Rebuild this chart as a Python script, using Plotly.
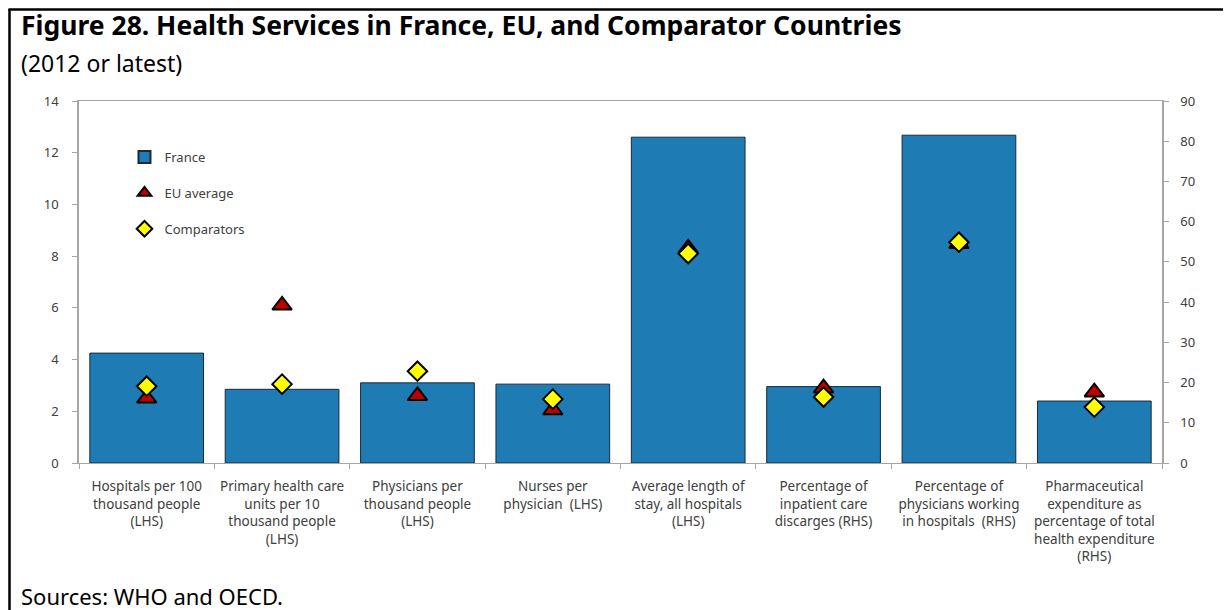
import plotly.graph_objects as go

# Categories (x tick labels)
categories = [
    'Hospitals per 100<br>thousand people<br>(LHS)',
    'Primary health care<br>units per 10<br>thousand people<br>(LHS)',
    'Physicians per<br>thousand people<br>(LHS)',
    'Nurses per<br>physician  (LHS)',
    'Average length of<br>stay, all hospitals<br>(LHS)',
    'Percentage of<br>inpatient care<br>discarges (RHS)',
    'Percentage of<br>physicians working<br>in hospitals  (RHS)',
    'Pharmaceutical<br>expenditure as<br>percentage of total<br>health expenditure<br>(RHS)',
]
lhs_categories = categories[:5]
rhs_categories = categories[5:]

# Values
france_lhs = [4.25, 2.85, 3.1, 3.05, 12.6]
france_rhs = [19.0, 81.5, 15.4]
eu_lhs = [2.5, 6.1, 2.6, 2.05, 8.3]
eu_rhs = [18.6, 54.5, 17.6]
comparators_lhs = [2.97, 3.05, 3.55, 2.47, 8.1]
comparators_rhs = [16.4, 54.9, 13.9]

lhs_ticks = list(range(0, 15, 2))
rhs_ticks = list(range(0, 91, 10))

# Styles
bar_color = '#1F7BB4'
eu_color = '#C00000'
comp_color = '#FFFF00'
axis_color = '#A6A6A6'
text_color = '#404040'
font_family = 'Noto Sans'

# The page puts the figure 8px in from the top-left corner
offset = 8
W, H = 1231, 610
plot_left, plot_right, plot_top, plot_bottom = 79 - offset, 1162 - offset, 101 - offset, 463 - offset
plot_w = plot_right - plot_left
plot_h = plot_bottom - plot_top


def px_x(px):
    # screen pixel -> paper x
    return (px - offset - plot_left) / plot_w


def px_y(py):
    # screen pixel -> paper y
    return (plot_bottom - (py - offset)) / plot_h


fig = go.Figure()

# France bars
bar_line = dict(color='#1A2A38', width=1)
fig.add_trace(go.Bar(x=lhs_categories, y=france_lhs, name='France', legendgroup='fr',
                     marker=dict(color=bar_color, line=bar_line)))
fig.add_trace(go.Bar(x=rhs_categories, y=france_rhs, name='France', legendgroup='fr', showlegend=False,
                     yaxis='y2', marker=dict(color=bar_color, line=bar_line)))

# EU average
eu_marker = dict(symbol='triangle-up', size=17, color=eu_color, line=dict(color='black', width=2))
fig.add_trace(go.Scatter(x=lhs_categories, y=eu_lhs, mode='markers', name='EU average', legendgroup='eu',
                         marker=eu_marker))
fig.add_trace(go.Scatter(x=rhs_categories, y=eu_rhs, mode='markers', name='EU average', legendgroup='eu',
                         showlegend=False, yaxis='y2', marker=eu_marker))

# Comparators
comp_marker = dict(symbol='diamond', size=15, color=comp_color, line=dict(color='black', width=2))
fig.add_trace(go.Scatter(x=lhs_categories, y=comparators_lhs, mode='markers', name='Comparators',
                         legendgroup='comp', marker=comp_marker))
fig.add_trace(go.Scatter(x=rhs_categories, y=comparators_rhs, mode='markers', name='Comparators',
                         legendgroup='comp', showlegend=False, yaxis='y2', marker=comp_marker))

fig.update_layout(
    width=W, height=H,
    margin=dict(l=plot_left, r=W - plot_right, t=plot_top, b=H - plot_bottom, autoexpand=False),
    paper_bgcolor='white', plot_bgcolor='white',
    font=dict(family=font_family, color=text_color, size=13),
    barmode='overlay', bargap=0.16,
    showlegend=True,
    legend=dict(x=0.042, y=px_y(142), xanchor='left', yanchor='top', bgcolor='rgba(0,0,0,0)',
                font=dict(size=13, color=text_color), tracegroupgap=16, itemwidth=30,
                itemsizing='constant'),
    xaxis=dict(categoryorder='array', categoryarray=categories, showline=True, linecolor=axis_color,
               linewidth=1, mirror=True, ticks='outside', tickson='boundaries', ticklen=5,
               tickcolor=axis_color, tickfont=dict(size=13.5, color=text_color), showgrid=False,
               tickangle=0, ticklabelstandoff=11),
    yaxis=dict(range=[0, 14], tickvals=lhs_ticks, showline=True, linecolor=axis_color, linewidth=1.5,
               ticks='outside', ticklen=5, tickcolor=axis_color, showgrid=False, zeroline=False,
               tickfont=dict(size=13, color=text_color), ticklabelstandoff=11),
    yaxis2=dict(range=[0, 90], tickvals=rhs_ticks, overlaying='y', side='right', showline=True,
                linecolor=axis_color, linewidth=1.5, ticks='outside', ticklen=5, tickcolor=axis_color,
                showgrid=False, zeroline=False, tickfont=dict(size=13, color=text_color),
                ticklabelstandoff=9),
)

# Titles and source
fig.add_annotation(text='<b>Figure 28. Health Services in France, EU, and Comparator Countries</b>',
                   xref='paper', yref='paper', x=px_x(19), y=px_y(25), xanchor='left', yanchor='middle',
                   showarrow=False, font=dict(size=26.5, color='black', family=font_family))
fig.add_annotation(text='(2012 or latest)', xref='paper', yref='paper', x=px_x(19), y=px_y(63),
                   xanchor='left', yanchor='middle', showarrow=False,
                   font=dict(size=23, color='black', family=font_family))
fig.add_annotation(text='Sources: WHO and OECD.', xref='paper', yref='paper', x=px_x(19), y=px_y(596),
                   xanchor='left', yanchor='middle', showarrow=False,
                   font=dict(size=22, color='black', family=font_family))

# Black frame (left and top edges)
fig.add_shape(type='line', xref='paper', yref='paper', x0=px_x(9.5), x1=px_x(9.5), y0=px_y(9),
              y1=px_y(610), line=dict(color='black', width=2.5))
fig.add_shape(type='line', xref='paper', yref='paper', x0=px_x(8.5), x1=px_x(1231), y0=px_y(9.5),
              y1=px_y(9.5), line=dict(color='black', width=2.5))

fig.write_html('out.html')
